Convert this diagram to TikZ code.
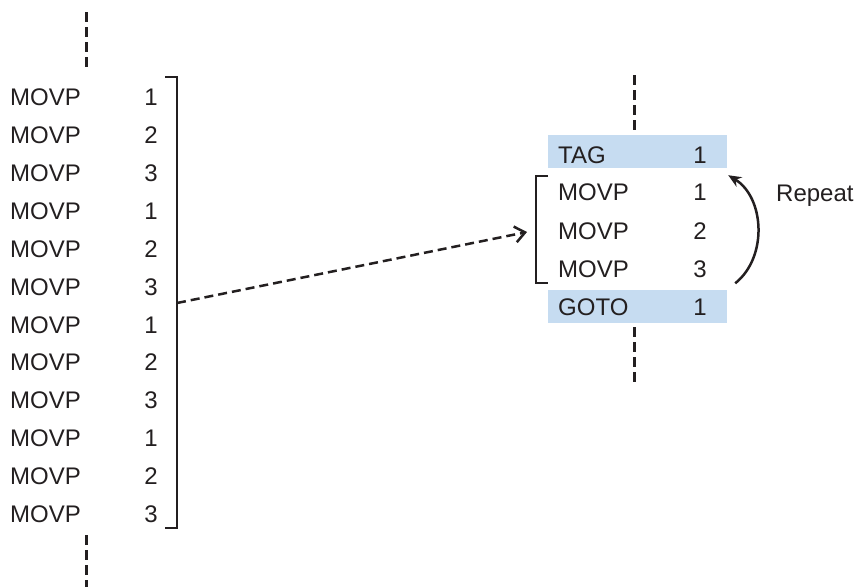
\documentclass[tikz,border=0pt]{standalone}
\usepackage{fontspec}
\setmainfont{Liberation Sans}
\usetikzlibrary{arrows.meta, positioning, calc}
\definecolor{inkdark}{HTML}{231F20}
\definecolor{taghl}{HTML}{C6DCF1}
\tikzset{
  cmd/.style={anchor=base west, inner sep=0pt, text=inkdark},
  arg/.style={anchor=base, inner sep=0pt, text=inkdark},
  cut/.style={inkdark, line width=3pt, dash pattern=on 10pt off 5pt},
  brk/.style={inkdark, line width=2.5pt},
  hilite/.style={fill=taghl, inner sep=0pt, minimum width=179pt, minimum height=33pt},
}

\begin{document}
\begin{tikzpicture}[x=1pt, y=-1pt, font=\fontsize{24}{28}\selectfont]
  \useasboundingbox (0,0) rectangle (857,587);
  % the program written out in full
  \foreach \i in {0,...,11} {
    \pgfmathsetmacro\yy{105.6+37.9*\i}
    \pgfmathtruncatemacro\n{mod(\i,3)+1}
    \node[cmd] (lcmd\i) at (10,\yy) {MOVP};
    \node[arg] (larg\i) at (151,\yy) {\n};
  }
  \draw[brk] (165,77) -- (177,77) -- (177,528) -- (165,528);
  \coordinate (lmid) at (177,303);
  \draw[cut] (86,12) -- (86,68);
  \draw[cut] (86,535) -- (86,587);

  % the same program with a loop
  \node[hilite] (tag) at (637.5,151.5) {};
  \node[hilite] (goto) at (637.5,306) {};
  \node[cmd] (tagcmd) at (558,163.6) {TAG};
  \node[arg] (tagarg) at (700,163.6) {1};
  \foreach \n/\yy in {1/200.6, 2/239.6, 3/277.6} {
    \node[cmd] (rcmd\n) at (558,\yy) {MOVP};
    \node[arg] (rarg\n) at (700,\yy) {\n};
  }
  \node[cmd] (gotocmd) at (558,315.6) {GOTO};
  \node[arg] (gotoarg) at (700,315.6) {1};
  \draw[brk] (548,176) -- (536,176) -- (536,283) -- (548,283);
  \coordinate (rmid) at (527,232);
  \draw[cut] (634,75) -- (634,132);
  \draw[cut] (634,327) -- (634,385);

  \draw[brk, -{Stealth[length=13pt, width=11pt]}]
    ([xshift=8pt, yshift=6pt]goto.north east) to[bend right=55]
    ([xshift=1pt, yshift=-7pt]tag.south east);
  \node[cmd] (rpt) at (776,201.6) {Repeat};

  \draw[brk, dash pattern=on 9pt off 5pt,
    -{Straight Barb[length=10pt, width=16pt]}] (lmid) -- (rmid);
\end{tikzpicture}
\end{document}
